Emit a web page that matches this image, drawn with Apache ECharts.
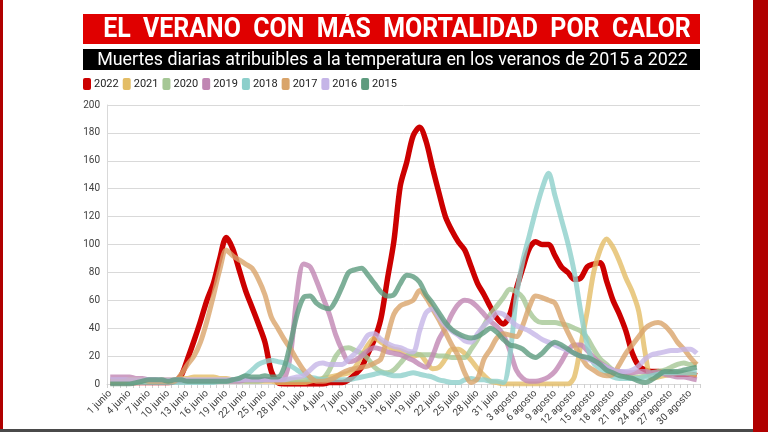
<!DOCTYPE html>
<html><head><meta charset="utf-8">
<script src="https://cdn.jsdelivr.net/npm/echarts/dist/echarts.min.js"></script>
<style>html,body{margin:0;padding:0;background:#fff}#c{width:768px;height:432px}</style>
</head><body><div id="c"></div>
<script>
const months = [['junio', 30], ['julio', 31], ['agosto', 31]];
const categories = [];
months.forEach(([m, n]) => { for (let d = 1; d <= n; d++) categories.push(d + ' ' + m); });

const years = ['2022', '2021', '2020', '2019', '2018', '2017', '2016', '2015'];

const y2022 = [1,1,1,1,1,1,1,1,1,1, 2,6,18,31,45,60,72,90,105,97, 82,67,55,43,30,9,1,0,0,0,
  0,0,0,0,1,1,1,3,7,12, 22,32,47,75,102,142,159,178,184,174, 155,137,120,110,102,96,84,72,64,55,
  47,43,50,68,83,97,102,100,100,92, 84,80,75,76,84,86,87,74,60,50, 38,22,13,10,9,9,8,8,7,7, 7,6];
const y2021 = [2,2,2,2,2,2,2,2,3,3, 3,4,4,5,5,5,5,4,4,3, 3,2,2,2,2,2,1,1,1,1,
  1,2,3,4,5,6,7,8,12,20, 28,33,30,27,25,24,22,20,21,16, 11,12,18,25,25,22,17,11,6,2,
  1,0,0,0,0,0,0,0,0,0, 0,0,5,28,52,80,96,104,98,88, 76,66,52,22,4,5,6,7,8,8, 7,6];
const y2020 = [2,2,2,2,2,2,2,2,2,2, 2,2,2,2,2,2,2,2,2,2, 2,2,2,2,3,3,3,3,3,3,
  3,3,3,4,10,20,25,26,24,22, 18,12,9,8,10,15,20,22,21,21, 21,20,20,19,19,19,25,32,42,50,
  56,62,68,66,62,52,46,44,44,44, 43,42,40,38,33,25,18,14,10,8, 6,5,5,6,8,9,10,12,14,15, 14,14];
const y2019 = [5,5,5,5,4,4,3,3,2,2, 2,2,2,2,2,2,2,2,2,2, 2,3,3,3,3,3,3,4,22,65,
  86,84,74,62,50,35,24,16,17,20, 24,26,25,23,22,21,19,17,14,12, 20,32,40,50,57,60,59,55,50,45,
  41,35,24,10,4,2,2,3,5,9, 16,24,28,28,24,19,15,12,10,9, 8,8,9,9,8,8,7,6,5,5, 4,3];
const y2018 = [1,1,1,1,1,1,1,1,1,1, 1,1,1,1,1,1,1,2,2,3, 4,6,10,14,16,17,16,15,13,10,
  7,5,4,3,3,3,3,3,4,5, 6,7,8,7,6,6,7,8,7,6, 5,3,2,1,1,3,4,3,3,2,
  2,1,20,62,88,106,124,140,151,135, 118,101,80,52,28,15,11,8,5,4, 4,4,4,5,6,7,8,8,8,8, 8,8];
const y2017 = [2,2,2,3,3,3,2,2,2,2, 2,7,14,20,30,45,63,82,96,92, 89,86,83,75,64,48,40,32,25,17,
  10,5,2,2,3,5,8,10,11,12, 13,15,18,34,50,56,58,60,67,62, 54,46,37,28,20,8,1,4,18,25,
  33,36,35,34,42,55,63,62,60,58, 47,37,28,20,13,10,7,6,7,14, 22,28,34,40,43,44,42,37,30,25, 19,14];
const y2016 = [3,3,3,3,3,3,3,3,3,3, 3,3,3,3,3,3,3,3,3,3, 3,3,3,3,3,3,3,3,4,5,
  6,10,14,15,14,14,14,18,22,28, 35,36,32,29,27,26,24,23,38,51, 54,48,42,38,35,31,30,36,42,46,
  51,50,46,42,40,38,35,32,30,28, 26,24,22,20,18,16,14,12,10,9, 9,10,13,18,21,22,23,24,24,25, 25,22];
const y2015 = [0,0,0,0,1,2,3,3,3,2, 3,3,2,2,2,2,2,2,2,3, 4,6,5,5,6,5,5,12,30,50,
  62,63,58,55,54,60,70,80,82,83, 78,72,66,63,64,72,78,77,73,64, 58,51,44,39,36,34,33,34,37,40,
  37,32,28,27,25,21,19,22,27,30, 28,25,22,20,19,17,14,10,8,6, 5,4,2,1,3,6,9,9,9,10, 11,12];

const values = [y2022, y2021, y2020, y2019, y2018, y2017, y2016, y2015];
const colors = ['#cc0000', '#e3bd66', '#a5c795', '#c086b3', '#8dcfcb', '#d9a46a', '#c5b5e7', '#5d9b7e'];

const chart = echarts.init(document.getElementById('c'), null, { renderer: 'canvas' });
chart.setOption({
  animation: false,
  backgroundColor: '#ffffff',
  color: colors,
  graphic: [
    { type: 'rect', shape: { x: 0, y: 0, width: 3, height: 432 }, style: { fill: '#b00000' } },
    { type: 'rect', shape: { x: 753, y: 0, width: 15, height: 432 }, style: { fill: '#b00000' } },
    { type: 'rect', shape: { x: 0, y: 429, width: 753, height: 3 }, style: { fill: '#4a4a4a' } },
    { type: 'rect', shape: { x: 83, y: 14, width: 617, height: 30 }, style: { fill: '#e00000' } },
    { type: 'group', x: 397, y: 29.5, scaleX: 0.89, children: [
      { type: 'text', x: 0, y: 0, style: { text: 'EL  VERANO  CON  MÁS  MORTALIDAD  POR  CALOR', fill: '#ffffff',
        font: 'bold 28px Roboto', textAlign: 'center', textVerticalAlign: 'middle' } }
    ] },
    { type: 'rect', shape: { x: 83, y: 49, width: 617, height: 21 }, style: { fill: '#000000' } },
    { type: 'group', x: 392.5, y: 60, scaleX: 0.99, children: [
      { type: 'text', x: 0, y: 0, style: { text: 'Muertes diarias atribuibles a la temperatura en los veranos de 2015 a 2022', fill: '#ffffff',
        font: '18px Roboto', textAlign: 'center', textVerticalAlign: 'middle' } }
    ] }
  ],
  legend: {
    data: years,
    left: 83, top: 78,
    icon: 'roundRect',
    itemWidth: 8, itemHeight: 12, itemGap: 4,
    padding: 0,
    textStyle: { fontSize: 11, color: '#222', fontFamily: 'Roboto', padding: [0, 0, 0, -2] }
  },
  grid: { left: 107, right: 68, top: 105, bottom: 48 },
  xAxis: {
    type: 'category',
    data: categories,
    boundaryGap: true,
    axisLine: { lineStyle: { color: '#d9d9d9' } },
    axisTick: { show: true, interval: 0, length: 4, lineStyle: { color: '#d0d0d0' } },
    axisLabel: { interval: 2, rotate: 45, fontSize: 10, color: '#404040', margin: 8, fontFamily: 'Roboto' }
  },
  yAxis: {
    type: 'value', min: 0, max: 200, interval: 20,
    axisLine: { show: true, lineStyle: { color: '#d9d9d9' } },
    axisTick: { show: false },
    splitLine: { lineStyle: { color: '#d9d9d9' } },
    axisLabel: { fontSize: 10, color: '#404040', margin: 7, fontFamily: 'Roboto' }
  },
  series: years.map((y, i) => ({
    name: y,
    type: 'line',
    data: values[i],
    smooth: 0.3,
    showSymbol: false,
    itemStyle: { color: colors[i] },
    lineStyle: { width: i === 0 ? 5.5 : 5, color: colors[i], opacity: i === 0 ? 1 : 0.8 }
  }))
});
</script></body></html>
